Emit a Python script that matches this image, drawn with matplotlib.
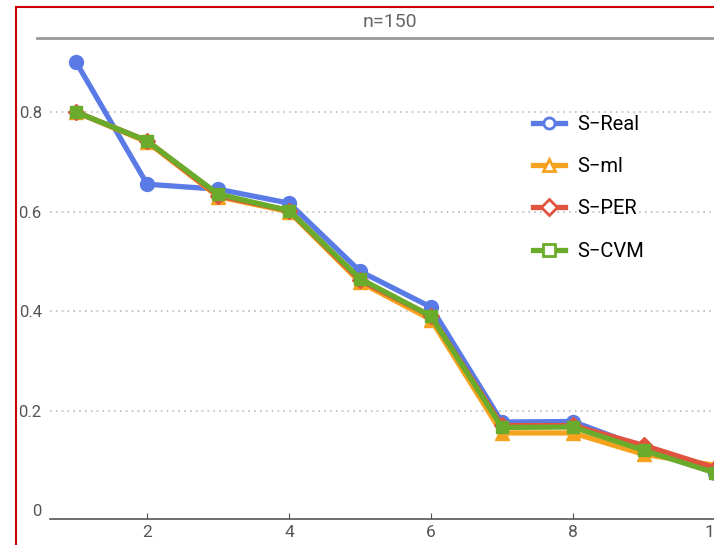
import matplotlib.pyplot as plt
from matplotlib.lines import Line2D
from matplotlib.patches import Rectangle

plt.rcParams['font.family'] = ['Roboto', 'DejaVu Sans']

# data
n_values = [1, 2, 3, 4, 5, 6, 7, 8, 9, 10]
s_real = [0.90, 0.655, 0.645, 0.617, 0.480, 0.408, 0.177, 0.178, 0.125, 0.075]
s_ml = [0.80, 0.740, 0.630, 0.600, 0.458, 0.383, 0.155, 0.155, 0.112, 0.090]
s_per = [0.80, 0.742, 0.632, 0.602, 0.462, 0.390, 0.170, 0.170, 0.130, 0.085]
s_cvm = [0.80, 0.742, 0.635, 0.602, 0.465, 0.390, 0.166, 0.167, 0.120, 0.075]
labels = ['S\u2212Real', 'S\u2212ml', 'S\u2212PER', 'S\u2212CVM']
title = 'n=150'

colors = ['#5a7be6', '#f5a21e', '#e0533f', '#6aab2c']
markers = ['o', '^', 'D', 's']
msizes = [10, 10, 8, 8]

fig = plt.figure(figsize=(7.14, 5.45), dpi=100)
ax = fig.add_axes([50 / 714, 26 / 545, 686 / 714, (519 - 38) / 545])

for ys, c, m, ms in zip([s_real, s_ml, s_per, s_cvm], colors, markers, msizes):
    ax.plot(n_values, ys, color=c, lw=3.8, marker=m, ms=ms, mfc=c, mec=c,
            clip_on=False, zorder=3)

ax.set_xlim(0.63, 10.3)
ax.set_ylim(-0.018, 0.949)
ax.set_xticks([2, 4, 6, 8, 10])
ax.set_yticks([0, 0.2, 0.4, 0.6, 0.8])
ax.set_yticklabels(['0', '0.2', '0.4', '0.6', '0.8'])
ax.tick_params(axis='x', direction='in', length=4, width=0.8, color='#555555',
               labelsize=12.5, labelcolor='#555555', pad=4)
ax.tick_params(axis='y', length=0, labelsize=12, labelcolor='#555555', pad=6)

for y in [0.2, 0.4, 0.6, 0.8]:
    ax.axhline(y, color='#bbbbbb', lw=1.2, ls=(0, (1, 2.5)), zorder=1)

for side in ['left', 'right', 'top']:
    ax.spines[side].set_visible(False)
ax.spines['bottom'].set_color('#555555')
ax.spines['bottom'].set_linewidth(1.2)

# header rule and title
fig.add_artist(Line2D([37 / 714, 1], [1 - 38 / 545, 1 - 38 / 545],
                      color='#999999', lw=2))
fig.text(390 / 714, 1 - 22 / 545, title, ha='center', va='center',
         fontsize=14, color='#666666')

# red frame
fig.add_artist(Rectangle((16 / 714, -0.05), 1.2, 1 - 7 / 545 + 0.05,
                         fill=False, edgecolor='#cc0000', lw=1.5))

handles = [Line2D([], [], color=c, lw=3.8, marker=m, ms=8, mfc='white', mec=c, mew=2)
           for c, m in zip(colors, markers)]
leg = fig.legend(handles, labels, loc='upper left',
                 bbox_to_anchor=(515 / 714, 1 - 97 / 545), frameon=False,
                 fontsize=14.5, handlelength=1.6, handletextpad=0.6,
                 labelspacing=1.15)

fig.savefig('out.png', dpi=100)
